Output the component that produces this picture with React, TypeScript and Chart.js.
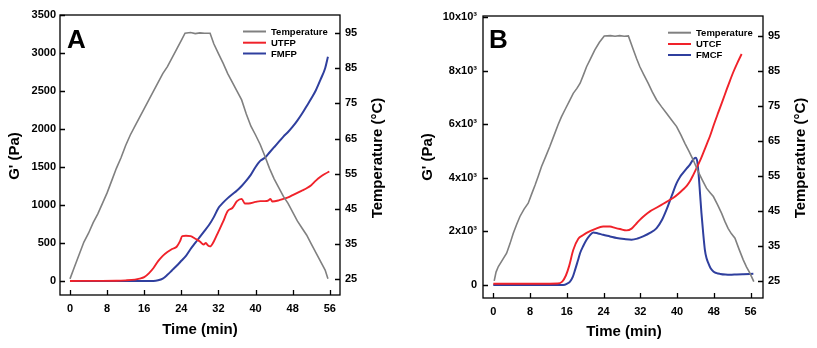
import React, { useEffect, useRef } from 'react';
import { Chart, registerables } from 'chart.js';

Chart.register(...registerables);

type Pt = [number, number];

const FONT = '"Liberation Sans", Arial, Helvetica, sans-serif';
const GRAY = '#808080';
const RED = '#f0222a';
const BLUE = '#2f3f9e';

// shared ticks
const timeTicks = [0, 8, 16, 24, 32, 40, 48, 56];
const tempTicks = [25, 35, 45, 55, 65, 75, 85, 95];
const gTicksA = [0, 500, 1000, 1500, 2000, 2500, 3000, 3500];
const gTicksB = [0, 2000, 4000, 6000, 8000, 10000];
const gTickLabelsB = ['0', '2x10³', '4x10³', '6x10³', '8x10³', '10x10³'];

const namesA = ['Temperature', 'UTFP', 'FMFP'];
const namesB = ['Temperature', 'UTCF', 'FMCF'];

// Panel A: [time (min), value]
const tempA: Pt[] = [
  [0, 25], [1, 28.5], [2, 32], [3, 35.5], [4, 38], [5, 41], [6, 43.5], [7, 46.5], [8, 49.5], [9, 53],
  [10, 56.5], [11, 59.5], [12, 63], [13, 66], [14, 68.5], [15, 71], [16, 73.5], [17, 76], [18, 78.5],
  [19, 81], [20, 83.5], [21, 85.5], [22, 88], [23, 90.5], [24, 93], [24.8, 95], [26, 95.2], [27, 94.9],
  [28, 95.1], [29, 95], [30.2, 95], [31, 92], [32, 89.2], [33, 86.5], [34, 83.5], [35, 81], [36, 78.5],
  [37, 76], [38, 72], [39, 68.5], [40, 66], [41, 63.3], [42, 60], [43, 56.5], [44, 53.5], [45, 51],
  [46, 48.5], [47, 46.5], [48, 44], [49, 41.5], [50, 39.5], [51, 37.5], [52, 35], [53, 32.5], [54, 30],
  [55, 27.5], [55.6, 25],
];
const utfpA: Pt[] = [
  [0, 0], [10, 3], [12, 8], [14, 18], [15, 30], [16, 50], [17, 100], [18, 170], [19, 260], [20, 330],
  [21, 380], [22, 420], [23, 450], [23.7, 520], [24.2, 590], [25, 595], [26, 590], [27, 555], [28, 520],
  [28.8, 480], [29.3, 500], [29.7, 470], [30.2, 455], [31, 520], [32, 650], [33, 780], [34, 920],
  [35, 960], [36, 1050], [37, 1080], [37.7, 1020], [38.5, 1020], [40, 1040], [41, 1050], [42, 1050],
  [42.8, 1060], [43.2, 1080], [43.6, 1045], [45, 1060], [46, 1080], [47, 1100], [48, 1130], [49, 1160],
  [50, 1190], [51, 1220], [52, 1260], [53, 1320], [54, 1370], [55, 1410], [55.9, 1440],
];
const fmfpA: Pt[] = [
  [0, 0], [18, 0], [19, 8], [20, 30], [21, 80], [22, 140], [23, 200], [24, 265], [25, 330], [26, 420],
  [27, 500], [28, 580], [29, 660], [30, 740], [31, 840], [32, 960], [33, 1030], [34, 1090], [35, 1140],
  [36, 1190], [37, 1250], [38, 1320], [39, 1400], [40, 1500], [41, 1580], [42, 1620], [43, 1690],
  [44, 1760], [45, 1830], [46, 1900], [47, 1960], [48, 2030], [49, 2110], [50, 2200], [51, 2300],
  [52, 2400], [53, 2510], [54, 2650], [55, 2800], [55.6, 2950],
];

// Panel B
const tempB: Pt[] = [
  [0.2, 25], [0.6, 27.5], [1.1, 29.1], [2, 31], [2.9, 32.9], [3.6, 35.5], [4.35, 38.6], [5.1, 41.2],
  [5.8, 43.4], [6.7, 45.5], [7.6, 47.2], [8.4, 50], [9.1, 52.4], [9.8, 55], [10.5, 57.7], [11.4, 60.5],
  [12.3, 63.4], [13.2, 66.5], [14.1, 69.6], [14.8, 71.8], [15.6, 73.9], [16.5, 76.2], [17.4, 78.6],
  [18.2, 80], [18.9, 81.5], [19.6, 83.8], [20.3, 86.2], [21.2, 88.6], [22.1, 91], [23.1, 93.2],
  [24.15, 95], [25.5, 95.1], [26.5, 94.9], [27.5, 95.1], [28.5, 94.9], [29.4, 95], [30.5, 91],
  [31.2, 88.5], [31.9, 86.2], [32.8, 83.8], [33.7, 81.5], [34.6, 79], [35.55, 76.7], [36.6, 74.8],
  [37.7, 72.9], [38.8, 71], [39.9, 69.1], [40.8, 66.8], [41.7, 64.3], [42.6, 62], [43.5, 59.6],
  [44.6, 56.2], [45.5, 53.8], [46.4, 51.5], [47.2, 50.2], [47.9, 49.1], [48.8, 46.8], [49.7, 44.3],
  [50.4, 42], [51.1, 40], [51.8, 38.5], [52.6, 37.2], [53.5, 34], [54.4, 31], [55.1, 29], [55.85, 27.2],
  [56.7, 24.8],
];
const utcfB: Pt[] = [
  [0, 40], [10, 40], [14, 50], [15, 120], [15.8, 350], [16.5, 700], [17.4, 1300], [18.5, 1720],
  [19.5, 1850], [20.3, 1940], [22.1, 2085], [23.9, 2180], [25.4, 2180], [26.5, 2130], [27.6, 2085],
  [29, 2035], [30.1, 2100], [31, 2260], [31.9, 2430], [33, 2600], [34.1, 2745], [35.5, 2880], [37, 3030],
  [38.2, 3150], [39.2, 3250], [40.3, 3400], [41.3, 3560], [42.1, 3700], [42.8, 3870], [43.5, 4100],
  [44.25, 4370], [45, 4640], [45.7, 4930], [46.4, 5230], [47.15, 5550], [48, 5980], [48.95, 6430],
  [49.9, 6870], [50.8, 7300], [51.5, 7620], [52.2, 7930], [53.1, 8280], [54.05, 8620],
];
const fmcfB: Pt[] = [
  [0, 0], [15.2, 0], [16, 40], [16.7, 125], [17.3, 300], [17.8, 560], [18.4, 900], [18.9, 1190],
  [19.6, 1460], [20.3, 1685], [21, 1850], [21.75, 1960], [22.8, 1920], [23.9, 1870], [25.4, 1810],
  [26.85, 1750], [28.5, 1710], [30.1, 1685], [31.4, 1730], [32.6, 1810], [34.1, 1940], [35.55, 2120],
  [36.7, 2420], [37.7, 2810], [38.8, 3310], [39.9, 3800], [40.6, 4020], [41.3, 4180], [42.1, 4350],
  [42.8, 4490], [43.5, 4680], [44.05, 4745], [44.4, 4600], [44.7, 4100], [45, 3400], [45.3, 2690],
  [45.7, 1900], [46.05, 1310], [46.4, 1000], [46.8, 810], [47.3, 620], [47.9, 500], [48.6, 440],
  [49.4, 410], [50.5, 385], [51.5, 375], [53, 390], [54.4, 400], [56.6, 413],
];

interface PanelCfg {
  width: number;
  height: number;
  padTop: number;
  leftW: number;
  rightW: number;
  xH: number;
  xMin: number;
  xMax: number;
  gMin: number;
  gMax: number;
  gTicks: number[];
  gLabel: (v: number) => string;
  tMin: number;
  tMax: number;
  temp: Pt[];
  red: Pt[];
  blue: Pt[];
  names: string[];
  letter: string;
  letterPos: [number, number];
  legend: { x0: number; x1: number; tx: number; ys: number[] };
  leftTitle: [number, number];
  rightTitle: [number, number];
  xTitle: [number, number];
  lPad: number;
}

const panelA: PanelCfg = {
  width: 410, height: 348, padTop: 15, leftW: 60, rightW: 70, xH: 53,
  xMin: -2.15, xMax: 58.2, gMin: -185, gMax: 3500, gTicks: gTicksA,
  gLabel: (v) => String(v), tMin: 20.4, tMax: 100.2,
  temp: tempA, red: utfpA, blue: fmfpA, names: namesA,
  letter: 'A', letterPos: [67, 48],
  legend: { x0: 243, x1: 266, tx: 271, ys: [31.5, 42.7, 53.5] },
  leftTitle: [15, 156], rightTitle: [378, 158], xTitle: [200, 330], lPad: 4,
};

const panelB: PanelCfg = {
  width: 407, height: 348, padTop: 16, leftW: 73, rightW: 54, xH: 50,
  xMin: -2.24, xMax: 58.7, gMin: -490, gMax: 10040, gTicks: gTicksB,
  gLabel: (v) => gTickLabelsB[gTicksB.indexOf(v)] ?? '', tMin: 20.1, tMax: 100.7,
  temp: tempB, red: utcfB, blue: fmcfB, names: namesB,
  letter: 'B', letterPos: [79, 48],
  legend: { x0: 258, x1: 281, tx: 286, ys: [32.7, 44, 55] },
  leftTitle: [18, 157], rightTitle: [391, 158], xTitle: [214, 332], lPad: 6,
};

function makeDecor(p: PanelCfg) {
  return {
    id: 'decor' + p.letter,
    afterDraw(chart: any) {
      const ctx = chart.ctx as CanvasRenderingContext2D;
      const a = chart.chartArea;
      ctx.save();
      ctx.strokeStyle = '#000';
      ctx.lineWidth = 1.3;
      ctx.strokeRect(a.left, a.top, a.right - a.left, a.bottom - a.top);
      const TL = 5;
      ctx.beginPath();
      const sx = chart.scales.x;
      timeTicks.forEach((v) => {
        const x = Math.round(sx.getPixelForValue(v)) + 0.5;
        ctx.moveTo(x, a.bottom);
        ctx.lineTo(x, a.bottom - TL);
      });
      const sl = chart.scales.yL;
      p.gTicks.forEach((v) => {
        const y = Math.round(sl.getPixelForValue(v)) + 0.5;
        ctx.moveTo(a.left, y);
        ctx.lineTo(a.left + TL, y);
      });
      const sr = chart.scales.yR;
      tempTicks.forEach((v) => {
        const y = Math.round(sr.getPixelForValue(v)) + 0.5;
        ctx.moveTo(a.right, y);
        ctx.lineTo(a.right - TL, y);
      });
      ctx.stroke();

      // panel letter
      ctx.fillStyle = '#000';
      ctx.font = `bold 26px ${FONT}`;
      ctx.textAlign = 'left';
      ctx.textBaseline = 'alphabetic';
      ctx.fillText(p.letter, p.letterPos[0], p.letterPos[1]);

      // legend
      const cols = [GRAY, RED, BLUE];
      ctx.font = `bold 9.5px ${FONT}`;
      ctx.textBaseline = 'middle';
      p.names.forEach((n, i) => {
        const y = p.legend.ys[i];
        ctx.strokeStyle = cols[i];
        ctx.lineWidth = 2;
        ctx.beginPath();
        ctx.moveTo(p.legend.x0, y);
        ctx.lineTo(p.legend.x1, y);
        ctx.stroke();
        ctx.fillStyle = '#000';
        ctx.fillText(n, p.legend.tx, y + 0.5);
      });

      // axis titles
      ctx.font = `bold 15px ${FONT}`;
      ctx.textAlign = 'center';
      ctx.textBaseline = 'middle';
      ctx.fillText('Time (min)', p.xTitle[0], p.xTitle[1]);
      const rot = (txt: string, x: number, y: number) => {
        ctx.save();
        ctx.translate(x, y);
        ctx.rotate(-Math.PI / 2);
        ctx.fillText(txt, 0, 0);
        ctx.restore();
      };
      rot("G' (Pa)", p.leftTitle[0], p.leftTitle[1]);
      rot('Temperature (°C)', p.rightTitle[0], p.rightTitle[1]);
      ctx.restore();
    },
  };
}

function Panel({ p, left }: { p: PanelCfg; left: number }) {
  const ref = useRef<HTMLCanvasElement | null>(null);
  useEffect(() => {
    if (!ref.current) return;
    const tickFont = { family: FONT, size: 11, weight: 'bold' as const };
    const toXY = (arr: Pt[]) => arr.map(([x, y]) => ({ x, y }));
    const noGrid = { display: false, drawTicks: false, tickLength: 0 };
    const chart = new Chart(ref.current, {
      type: 'line',
      data: {
        datasets: [
          {
            label: p.names[0], data: toXY(p.temp), yAxisID: 'yR', borderColor: GRAY,
            borderWidth: 1.6, pointRadius: 0, tension: 0,
          },
          {
            label: p.names[1], data: toXY(p.red), yAxisID: 'yL', borderColor: RED,
            borderWidth: 1.9, pointRadius: 0, cubicInterpolationMode: 'monotone',
          },
          {
            label: p.names[2], data: toXY(p.blue), yAxisID: 'yL', borderColor: BLUE,
            borderWidth: 2, pointRadius: 0, cubicInterpolationMode: 'monotone',
          },
        ],
      },
      options: {
        responsive: false,
        animation: false,
        devicePixelRatio: 1,
        layout: { padding: { top: p.padTop, left: 0, right: 0, bottom: 0 } },
        plugins: { legend: { display: false }, tooltip: { enabled: false } },
        scales: {
          x: {
            type: 'linear', min: p.xMin, max: p.xMax,
            grid: noGrid, border: { display: false },
            ticks: { font: tickFont, color: '#000', padding: 7, maxRotation: 0, autoSkip: false },
            afterBuildTicks: (s: any) => { s.ticks = timeTicks.map((v) => ({ value: v })); },
            afterFit: (s: any) => { s.height = p.xH; },
          },
          yL: {
            type: 'linear', position: 'left', min: p.gMin, max: p.gMax,
            grid: noGrid, border: { display: false },
            ticks: { font: tickFont, color: '#000', padding: p.lPad, autoSkip: false, callback: (v: any) => p.gLabel(Number(v)) },
            afterBuildTicks: (s: any) => { s.ticks = p.gTicks.map((v) => ({ value: v })); },
            afterFit: (s: any) => { s.width = p.leftW; },
          },
          yR: {
            type: 'linear', position: 'right', min: p.tMin, max: p.tMax,
            grid: noGrid, border: { display: false },
            ticks: { font: tickFont, color: '#000', padding: 5, autoSkip: false, callback: (v: any) => String(v) },
            afterBuildTicks: (s: any) => { s.ticks = tempTicks.map((v) => ({ value: v })); },
            afterFit: (s: any) => { s.width = p.rightW; },
          },
        },
      } as any,
      plugins: [makeDecor(p)],
    });
    return () => chart.destroy();
  }, [p]);
  return (
    <canvas
      ref={ref}
      width={p.width}
      height={p.height}
      style={{ position: 'absolute', left, top: 0, width: p.width, height: p.height }}
    />
  );
}

export default function App() {
  return (
    <div style={{ position: 'absolute', left: 0, top: 0, width: 817, height: 348, background: '#fff' }}>
      <Panel p={panelA} left={0} />
      <Panel p={panelB} left={410} />
    </div>
  );
}
